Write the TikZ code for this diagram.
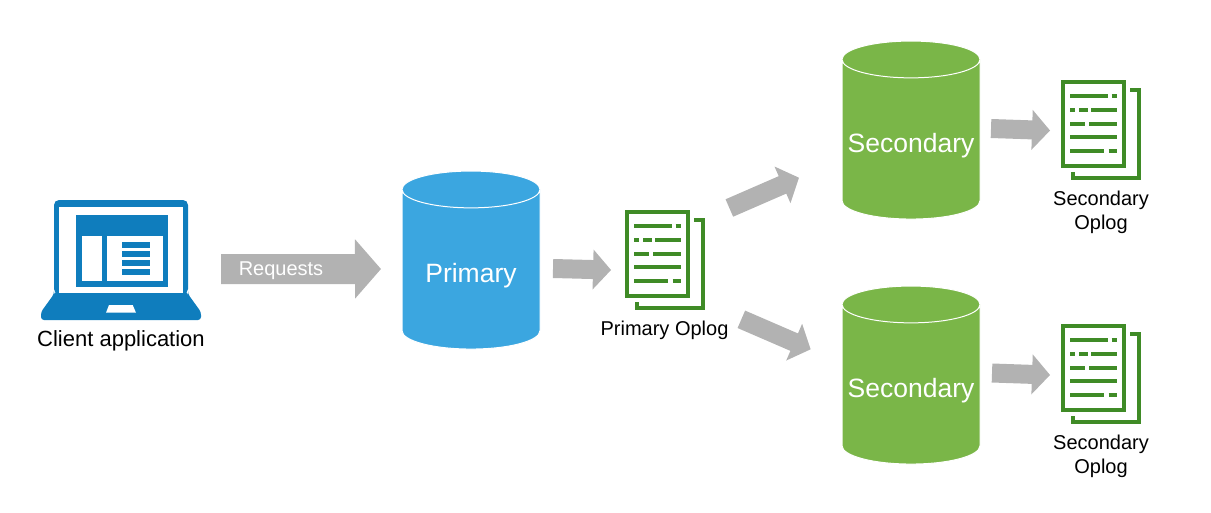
\documentclass[tikz,border=0pt]{standalone}
\usepackage{fontspec}
\setmainfont{Liberation Sans}
\usetikzlibrary{arrows.meta,shapes.geometric}

\definecolor{laptopblue}{HTML}{0F7DBD}
\definecolor{primaryblue}{HTML}{3BA6E0}
\definecolor{secondarygreen}{HTML}{7AB648}
\definecolor{oplogreen}{HTML}{3F8B26}
\definecolor{arrowgray}{HTML}{B2B2B2}

% Same text box for every database, so that their ends come out alike
\newcommand{\dbname}[1]{\makebox[92pt]{#1}}

\tikzset{
    dbcyl/.style={cylinder, shape border rotate=90, aspect=0.4, draw=white, line width=1pt,
        minimum width=138, minimum height=178, inner sep=0pt, outer sep=0pt,
        text=white, text height=32pt, text depth=5.5pt, font=\fontsize{26.5}{30}\selectfont},
    biglabel/.style={font=\fontsize{22}{26}\selectfont},
    smalllabel/.style={font=\fontsize{20}{24}\selectfont, align=center},
    bigarrow/.style={draw=arrowgray, line width=30, -{Triangle[length=26,width=58,fill=arrowgray]}},
    smallarrow/.style={draw=arrowgray, line width=19, -{Triangle[length=18,width=39,fill=arrowgray]}},
    % Sheet with its written lines, origin at the top left corner
    oplog/.pic={
        \node[draw=oplogreen, line width=4, minimum width=61.3, minimum height=83.7,
            inner sep=0pt, outer sep=2pt] (sheet) at (32.7,44) {};
        \draw[draw=oplogreen, line width=4] (69.3,9.5) -- (78,9.5) -- (78,98) -- (12,98) -- (12,91.7);
        \foreach \rowy/\rowdashes in {16/{9.3/46.7,50.7/55.7},
                30/{9.3/14.3,18.3/27,30/55.7},
                43.7/{9.3/24.3,28/55.7},
                57.3/{9.3/55.7},
                71/{9.3/43,47.7/55.7}} {
            \foreach \from/\to in \rowdashes {
                \draw[draw=oplogreen, line width=4] (\from,\rowy) -- (\to,\rowy);
            }
        }
    }
}

\begin{document}
\begin{tikzpicture}[x=1pt,y=-1pt]
    \useasboundingbox (0,0) rectangle (1211,512);

    % Laptop
    \node[fill=laptopblue, rounded corners=5, minimum width=134, minimum height=94,
        inner sep=0pt, outer sep=0pt] (laptop) at (121,247) {};
    \fill[laptopblue, rounded corners=3] (54,292) -- (188,292) -- (188,294) -- (201,312) -- (201,320) -- (41,320) -- (41,312) -- (54,294) -- cycle;
    \fill[white] (59,206.7) rectangle (183.3,293.3);
    \fill[white] (109,305) -- (132.7,305) -- (136,312.7) -- (106,312.7) -- cycle;
    \fill[laptopblue] (76.3,215) rectangle (167.7,287);
    \fill[white] (81.7,236) rectangle (102,281);
    \fill[white] (107,236) rectangle (163,281);
    \foreach \liney in {242,251,260,269} {
        \fill[laptopblue] (122,\liney) rectangle (150,\liney+6);
    }
    \node[biglabel] (client) at (121,341) {Client application};

    % Databases
    \node[dbcyl, fill=primaryblue] (primary) at (471,269.5) {\dbname{Primary}};
    \node[dbcyl, fill=secondarygreen] (secondaryA) at (911,139.5) {\dbname{Secondary}};
    \node[dbcyl, fill=secondarygreen] (secondaryB) at (911,384.5) {\dbname{Secondary}};

    % Oplogs
    \pic (primarylog) at (625,210) {oplog};
    \pic (secondarylogA) at (1061,80) {oplog};
    \pic (secondarylogB) at (1061,324) {oplog};
    \node[smalllabel] (primarylabel) at (664.5,330) {Primary Oplog};
    \node[smalllabel] (secondarylabelA) at (1101,212) {Secondary\\Oplog};
    \node[smalllabel] (secondarylabelB) at (1101,456) {Secondary\\Oplog};

    % Arrows between them
    \draw[bigarrow] ([xshift=33,yshift=-22]laptop.east) -- ([xshift=-21,yshift=0.5]primary.west)
        node[pos=0.375, yshift=-2, text=white, font=\fontsize{20}{24}\selectfont] (requests) {Requests};
    \draw[smallarrow] ([xshift=13,yshift=1]primary.east) -- ([xshift=-14,yshift=-16]primarylogsheet.west);
    \draw[smallarrow] ([xshift=39,yshift=46]primarylogsheet.east) -- ([xshift=-43,yshift=-38.2]secondaryA.west);
    \draw[smallarrow] ([xshift=51,yshift=-65.3]primarylogsheet.east) -- ([xshift=-31.3,yshift=35.2]secondaryB.west);
    \draw[smallarrow] ([xshift=11,yshift=11]secondaryA.east) -- ([xshift=-11,yshift=-6.5]secondarylogAsheet.west);
    \draw[smallarrow] ([xshift=12,yshift=11.5]secondaryB.east) -- ([xshift=-11,yshift=-7]secondarylogBsheet.west);

\end{tikzpicture}
\end{document}
